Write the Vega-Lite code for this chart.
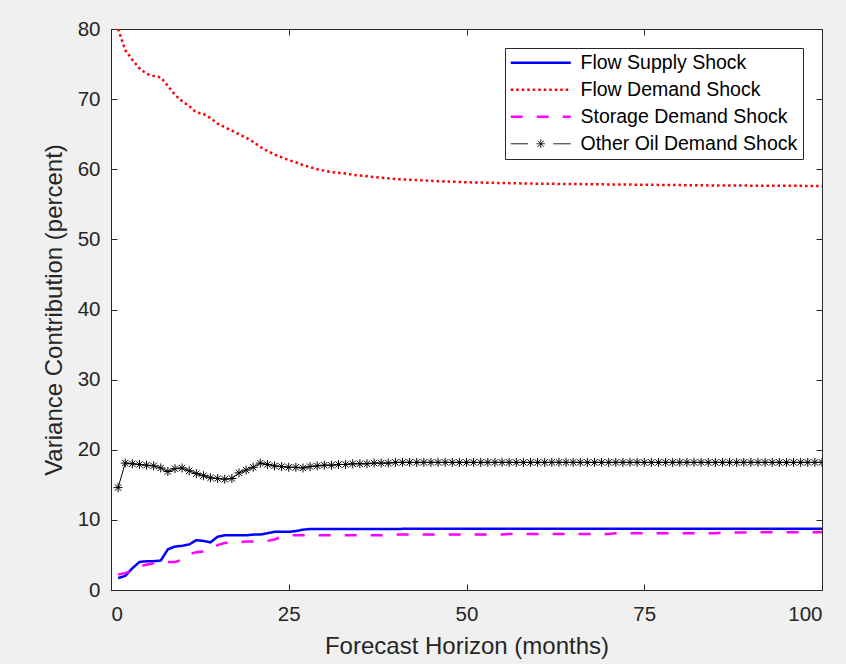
{
  "$schema": "https://vega.github.io/schema/vega-lite/v6.json",
  "width": 711,
  "height": 561,
  "autosize": {"type": "none"},
  "padding": {"left": 111, "top": 29, "right": 24, "bottom": 74},
  "background": "#f0f0f0",
  "config": {
    "view": {"fill": "white", "stroke": "#262626", "strokeWidth": 1},
    "axis": {
      "labelFont": "Liberation Sans",
      "labelFontSize": 20.5,
      "labelColor": "#262626",
      "titleFont": "Liberation Sans",
      "titleFontSize": 24,
      "titleFontWeight": "normal",
      "titleColor": "#262626",
      "tickColor": "#262626",
      "tickSize": -6,
      "domain": false,
      "grid": false
    }
  },
  "data": {
    "values": [
      {"h":1,"fs":1.7,"fd":80.0,"sd":2.2,"oo":14.6},
      {"h":2,"fs":2.0,"fd":77.0,"sd":2.4,"oo":18.1},
      {"h":3,"fs":3.1,"fd":75.6,"sd":2.8,"oo":18.0},
      {"h":4,"fs":4.0,"fd":74.4,"sd":3.4,"oo":17.9},
      {"h":5,"fs":4.1,"fd":73.6,"sd":3.6,"oo":17.8},
      {"h":6,"fs":4.1,"fd":73.3,"sd":3.8,"oo":17.7},
      {"h":7,"fs":4.2,"fd":73.1,"sd":3.9,"oo":17.4},
      {"h":8,"fs":5.8,"fd":71.9,"sd":4.0,"oo":16.9},
      {"h":9,"fs":6.2,"fd":70.6,"sd":4.0,"oo":17.3},
      {"h":10,"fs":6.3,"fd":69.7,"sd":4.3,"oo":17.4},
      {"h":11,"fs":6.5,"fd":69.0,"sd":5.1,"oo":17.0},
      {"h":12,"fs":7.1,"fd":68.1,"sd":5.4,"oo":16.6},
      {"h":13,"fs":7.0,"fd":67.9,"sd":5.5,"oo":16.3},
      {"h":14,"fs":6.8,"fd":67.3,"sd":5.8,"oo":16.0},
      {"h":15,"fs":7.6,"fd":66.5,"sd":6.4,"oo":15.9},
      {"h":16,"fs":7.8,"fd":66.0,"sd":6.7,"oo":15.8},
      {"h":17,"fs":7.8,"fd":65.5,"sd":6.8,"oo":15.9},
      {"h":18,"fs":7.8,"fd":65.0,"sd":6.8,"oo":16.7},
      {"h":19,"fs":7.8,"fd":64.5,"sd":6.9,"oo":17.1},
      {"h":20,"fs":7.9,"fd":63.9,"sd":6.9,"oo":17.5},
      {"h":21,"fs":7.9,"fd":63.2,"sd":7.0,"oo":18.1},
      {"h":22,"fs":8.1,"fd":62.6,"sd":7.0,"oo":17.9},
      {"h":23,"fs":8.3,"fd":62.1,"sd":7.2,"oo":17.7},
      {"h":24,"fs":8.3,"fd":61.7,"sd":7.6,"oo":17.6},
      {"h":25,"fs":8.3,"fd":61.3,"sd":7.8,"oo":17.5},
      {"h":26,"fs":8.4,"fd":61.0,"sd":7.8,"oo":17.5},
      {"h":27,"fs":8.6,"fd":60.6,"sd":7.8,"oo":17.4},
      {"h":28,"fs":8.7,"fd":60.3,"sd":7.8,"oo":17.6},
      {"h":29,"fs":8.7,"fd":60.0,"sd":7.8,"oo":17.7},
      {"h":30,"fs":8.7,"fd":59.8,"sd":7.8,"oo":17.8},
      {"h":31,"fs":8.7,"fd":59.6,"sd":7.8,"oo":17.8},
      {"h":32,"fs":8.7,"fd":59.5,"sd":7.8,"oo":17.9},
      {"h":33,"fs":8.7,"fd":59.4,"sd":7.8,"oo":17.9},
      {"h":34,"fs":8.7,"fd":59.2,"sd":7.8,"oo":18.0},
      {"h":35,"fs":8.7,"fd":59.1,"sd":7.8,"oo":18.0},
      {"h":36,"fs":8.7,"fd":59.0,"sd":7.8,"oo":18.0},
      {"h":37,"fs":8.7,"fd":58.9,"sd":7.8,"oo":18.1},
      {"h":38,"fs":8.7,"fd":58.8,"sd":7.8,"oo":18.1},
      {"h":39,"fs":8.7,"fd":58.7,"sd":7.9,"oo":18.1},
      {"h":40,"fs":8.7,"fd":58.6,"sd":7.9,"oo":18.2},
      {"h":41,"fs":8.72,"fd":58.55,"sd":7.9,"oo":18.2},
      {"h":42,"fs":8.72,"fd":58.5,"sd":7.9,"oo":18.2},
      {"h":43,"fs":8.72,"fd":58.45,"sd":7.9,"oo":18.2},
      {"h":44,"fs":8.72,"fd":58.4,"sd":7.9,"oo":18.2},
      {"h":45,"fs":8.72,"fd":58.35,"sd":7.9,"oo":18.2},
      {"h":46,"fs":8.72,"fd":58.3,"sd":7.9,"oo":18.2},
      {"h":47,"fs":8.72,"fd":58.26,"sd":7.9,"oo":18.2},
      {"h":48,"fs":8.72,"fd":58.22,"sd":7.9,"oo":18.2},
      {"h":49,"fs":8.72,"fd":58.18,"sd":7.9,"oo":18.2},
      {"h":50,"fs":8.72,"fd":58.15,"sd":7.9,"oo":18.2},
      {"h":51,"fs":8.72,"fd":58.12,"sd":7.9,"oo":18.2},
      {"h":52,"fs":8.72,"fd":58.1,"sd":7.9,"oo":18.2},
      {"h":53,"fs":8.72,"fd":58.08,"sd":7.9,"oo":18.2},
      {"h":54,"fs":8.72,"fd":58.06,"sd":7.9,"oo":18.2},
      {"h":55,"fs":8.72,"fd":58.04,"sd":7.9,"oo":18.2},
      {"h":56,"fs":8.72,"fd":58.02,"sd":8.0,"oo":18.2},
      {"h":57,"fs":8.72,"fd":58.0,"sd":8.0,"oo":18.2},
      {"h":58,"fs":8.72,"fd":57.98,"sd":8.0,"oo":18.2},
      {"h":59,"fs":8.72,"fd":57.96,"sd":8.0,"oo":18.2},
      {"h":60,"fs":8.72,"fd":57.94,"sd":8.0,"oo":18.2},
      {"h":61,"fs":8.75,"fd":57.93,"sd":8.0,"oo":18.2},
      {"h":62,"fs":8.75,"fd":57.92,"sd":8.0,"oo":18.2},
      {"h":63,"fs":8.75,"fd":57.91,"sd":8.0,"oo":18.2},
      {"h":64,"fs":8.75,"fd":57.9,"sd":8.0,"oo":18.2},
      {"h":65,"fs":8.75,"fd":57.89,"sd":8.0,"oo":18.2},
      {"h":66,"fs":8.75,"fd":57.88,"sd":8.0,"oo":18.2},
      {"h":67,"fs":8.75,"fd":57.87,"sd":8.0,"oo":18.2},
      {"h":68,"fs":8.75,"fd":57.86,"sd":8.0,"oo":18.2},
      {"h":69,"fs":8.75,"fd":57.85,"sd":8.0,"oo":18.2},
      {"h":70,"fs":8.75,"fd":57.84,"sd":8.0,"oo":18.2},
      {"h":71,"fs":8.75,"fd":57.83,"sd":8.1,"oo":18.2},
      {"h":72,"fs":8.75,"fd":57.82,"sd":8.1,"oo":18.2},
      {"h":73,"fs":8.75,"fd":57.81,"sd":8.1,"oo":18.2},
      {"h":74,"fs":8.75,"fd":57.8,"sd":8.1,"oo":18.2},
      {"h":75,"fs":8.75,"fd":57.79,"sd":8.1,"oo":18.2},
      {"h":76,"fs":8.75,"fd":57.78,"sd":8.1,"oo":18.2},
      {"h":77,"fs":8.75,"fd":57.77,"sd":8.1,"oo":18.2},
      {"h":78,"fs":8.75,"fd":57.76,"sd":8.1,"oo":18.2},
      {"h":79,"fs":8.75,"fd":57.75,"sd":8.1,"oo":18.2},
      {"h":80,"fs":8.75,"fd":57.74,"sd":8.1,"oo":18.2},
      {"h":81,"fs":8.75,"fd":57.73,"sd":8.1,"oo":18.2},
      {"h":82,"fs":8.75,"fd":57.72,"sd":8.1,"oo":18.2},
      {"h":83,"fs":8.75,"fd":57.71,"sd":8.1,"oo":18.2},
      {"h":84,"fs":8.75,"fd":57.7,"sd":8.1,"oo":18.2},
      {"h":85,"fs":8.75,"fd":57.7,"sd":8.1,"oo":18.2},
      {"h":86,"fs":8.75,"fd":57.69,"sd":8.2,"oo":18.2},
      {"h":87,"fs":8.75,"fd":57.68,"sd":8.2,"oo":18.2},
      {"h":88,"fs":8.75,"fd":57.68,"sd":8.2,"oo":18.2},
      {"h":89,"fs":8.75,"fd":57.67,"sd":8.2,"oo":18.2},
      {"h":90,"fs":8.75,"fd":57.66,"sd":8.2,"oo":18.2},
      {"h":91,"fs":8.75,"fd":57.66,"sd":8.25,"oo":18.2},
      {"h":92,"fs":8.75,"fd":57.65,"sd":8.25,"oo":18.2},
      {"h":93,"fs":8.75,"fd":57.65,"sd":8.25,"oo":18.2},
      {"h":94,"fs":8.75,"fd":57.64,"sd":8.25,"oo":18.2},
      {"h":95,"fs":8.75,"fd":57.64,"sd":8.25,"oo":18.2},
      {"h":96,"fs":8.75,"fd":57.63,"sd":8.25,"oo":18.2},
      {"h":97,"fs":8.75,"fd":57.63,"sd":8.25,"oo":18.2},
      {"h":98,"fs":8.75,"fd":57.62,"sd":8.25,"oo":18.2},
      {"h":99,"fs":8.75,"fd":57.62,"sd":8.25,"oo":18.2},
      {"h":100,"fs":8.75,"fd":57.6,"sd":8.25,"oo":18.2}
    ]
  },
  "resolve": {"axis": {"x": "independent", "y": "independent"}},
  "layer": [
    {
      "transform": [{"fold": ["fs", "fd", "sd"], "as": ["key", "v"]}],
      "mark": {"type": "line", "clip": true, "strokeWidth": 2.5, "strokeCap": "butt"},
      "encoding": {
        "x": {
          "field": "h", "type": "quantitative",
          "scale": {"domain": [0, 100], "nice": false},
          "axis": {"values": [0, 25, 50, 75, 100], "title": "Forecast Horizon (months)", "labelPadding": 20, "titlePadding": 10}
        },
        "y": {
          "field": "v", "type": "quantitative",
          "scale": {"domain": [0, 80], "nice": false},
          "axis": {"values": [0, 10, 20, 30, 40, 50, 60, 70, 80], "title": "Variance Contribution (percent)", "labelPadding": 17, "titlePadding": 11}
        },
        "color": {
          "field": "key", "type": "nominal",
          "scale": {"domain": ["fs", "fd", "sd", "oo"], "range": ["#0000ff", "#ff0000", "#ff00ff", "#000000"]},
          "legend": {
            "title": null,
            "orient": "top-right",
            "offset": 19,
            "strokeColor": "#262626",
            "fillColor": "white",
            "padding": 5,
            "labelFont": "Liberation Sans",
            "labelFontSize": 19.5,
            "labelColor": "#000000",
            "labelLimit": 400,
            "symbolOffset": 21,
            "labelOffset": 30,
            "rowPadding": 6,
            "symbolType": "stroke",
            "symbolSize": 3600,
            "labelExpr": "datum.value === 'fs' ? 'Flow Supply Shock' : datum.value === 'fd' ? 'Flow Demand Shock' : datum.value === 'sd' ? 'Storage Demand Shock' : 'Other Oil Demand Shock'",
            "encode": {
              "symbols": {
                "update": {
                  "shape": {"signal": "datum.value === 'oo' ? 'M-1,0L-0.42,0M0.42,0L1,0M-0.14,0L0.14,0M0,-0.14L0,0.14M-0.1,-0.1L0.1,0.1M-0.1,0.1L0.1,-0.1' : 'stroke'"},
                  "strokeDash": {"signal": "datum.value === 'fd' ? [2.5, 3] : datum.value === 'sd' ? [12, 14] : [1, 0]"},
                  "strokeWidth": {"signal": "datum.value === 'oo' ? 1 : 2.5"}
                }
              }
            }
          }
        },
        "strokeDash": {
          "field": "key", "type": "nominal",
          "scale": {"domain": ["fs", "fd", "sd"], "range": [[1, 0], [2.5, 3], [12, 14]]},
          "legend": null
        }
      }
    },
    {
      "transform": [{"fold": ["oo"], "as": ["key", "v"]}],
      "mark": {"type": "line", "clip": true, "strokeWidth": 1},
      "encoding": {
        "x": {"field": "h", "type": "quantitative", "axis": null},
        "y": {"field": "v", "type": "quantitative", "axis": null},
        "color": {"field": "key", "type": "nominal"}
      }
    },
    {
      "transform": [{"fold": ["oo"], "as": ["key", "v"]}],
      "mark": {"type": "point", "clip": true, "filled": false, "strokeWidth": 1, "size": 81, "opacity": 1, "color": "#000000",
        "shape": "M-1,0L1,0M0,-1L0,1M-0.7,-0.7L0.7,0.7M-0.7,0.7L0.7,-0.7"},
      "encoding": {
        "x": {"field": "h", "type": "quantitative", "axis": null},
        "y": {"field": "v", "type": "quantitative", "axis": null}
      }
    },
    {
      "mark": {"type": "point", "opacity": 0},
      "encoding": {
        "x": {"field": "h", "type": "quantitative", "axis": {"orient": "top", "values": [0, 25, 50, 75, 100], "labels": false, "title": null}},
        "y": {"field": "fd", "type": "quantitative", "axis": {"orient": "right", "values": [0, 10, 20, 30, 40, 50, 60, 70, 80], "labels": false, "title": null}}
      }
    }
  ]
}
